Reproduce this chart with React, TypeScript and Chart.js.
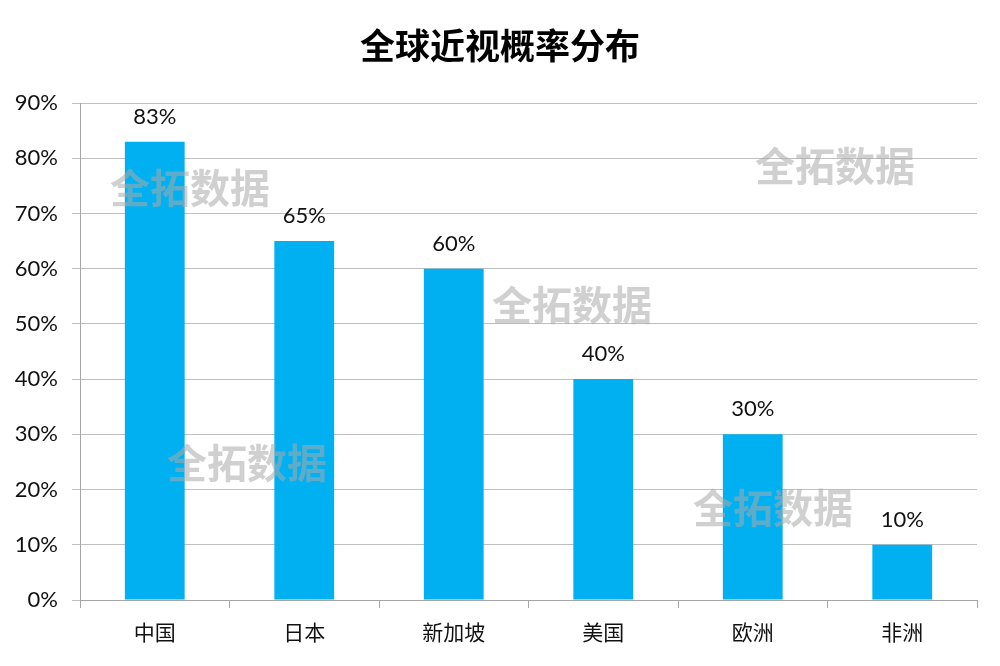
import React, { useEffect, useRef } from "react";
import { Chart, registerables } from "chart.js";

Chart.register(...registerables);

const title = "全球近视概率分布";
const categories = ["中国", "日本", "新加坡", "美国", "欧洲", "非洲"];
const values = [83, 65, 60, 40, 30, 10];
const yTicks = [0, 10, 20, 30, 40, 50, 60, 70, 80, 90];
const watermarkText = "全拓数据";
const watermarkSpots = [
  [190, 188],
  [835, 166],
  [572, 305],
  [247, 463],
  [773, 508],
];

const FONT = "Lato, 'Noto Sans CJK SC', sans-serif";

const extras = {
  id: "extras",
  afterDatasetsDraw(chart: any) {
    const ctx = chart.ctx;
    const meta = chart.getDatasetMeta(0);
    ctx.save();
    ctx.fillStyle = "#111";
    ctx.font = `22px ${FONT}`;
    ctx.textAlign = "center";
    ctx.textBaseline = "alphabetic";
    meta.data.forEach((bar: any, i: number) => {
      ctx.fillText(values[i] + "%", bar.x, bar.y - 18);
    });
    ctx.font = `bold 40px 'Noto Sans CJK SC', sans-serif`;
    ctx.fillStyle = "rgba(170,170,170,0.55)";
    ctx.textBaseline = "middle";
    watermarkSpots.forEach(([x, y]) => ctx.fillText(watermarkText, x, y));
    ctx.font = `bold 35px 'Noto Sans CJK SC', sans-serif`;
    ctx.fillStyle = "#000";
    ctx.fillText(title, 500, 46);
    ctx.restore();
  },
};

export default function App() {
  const ref = useRef<HTMLCanvasElement>(null);
  useEffect(() => {
    const chart = new Chart(ref.current!, {
      type: "bar",
      data: {
        labels: categories,
        datasets: [
          {
            data: values,
            backgroundColor: "#00B0F0",
            barPercentage: 0.4,
            categoryPercentage: 1,
          },
        ],
      },
      options: {
        animation: false,
        responsive: false,
        devicePixelRatio: 1,
        layout: { padding: { left: 8, right: 23, top: 103, bottom: 0 } },
        plugins: { legend: { display: false }, tooltip: { enabled: false } },
        scales: {
          x: {
            grid: {
              display: true,
              drawOnChartArea: false,
              offset: true,
              tickLength: 8,
              color: "#A6A6A6",
            },
            border: { color: "#A6A6A6" },
            ticks: { color: "#111", font: { size: 21, family: FONT }, padding: 13 },
            afterFit: (s: any) => {
              s.height = 66;
            },
          },
          y: {
            min: 0,
            max: 90,
            afterBuildTicks: (s: any) => {
              s.ticks = yTicks.map((v) => ({ value: v }));
            },
            grid: { color: "#BFBFBF", tickLength: 8 },
            border: { color: "#A6A6A6" },
            ticks: {
              color: "#111",
              font: { size: 22, family: FONT },
              padding: 14,
              callback: (v: any) => v + "%",
            },
            afterFit: (s: any) => {
              s.width = 72;
            },
          },
        },
      },
      plugins: [extras],
    });
    return () => chart.destroy();
  }, []);
  return (
    <div style={{ position: "fixed", left: 0, top: 0, width: 1000, height: 666, background: "#fff" }}>
      <canvas ref={ref} width={1000} height={666} />
    </div>
  );
}
